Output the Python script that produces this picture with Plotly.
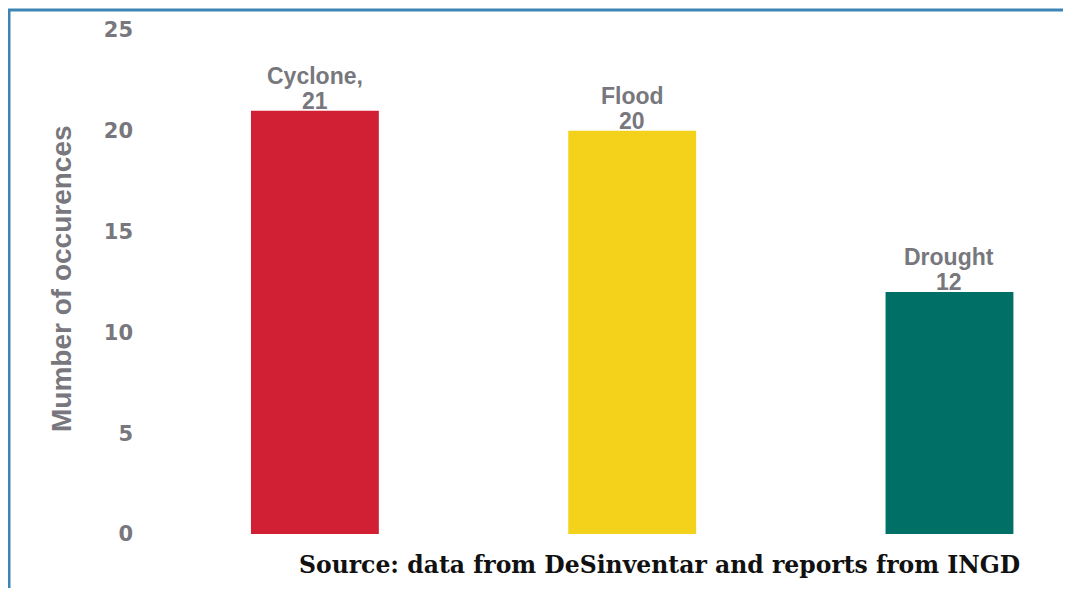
import plotly.graph_objects as go

categories = ["Cyclone,", "Flood", "Drought"]
values = [21, 20, 12]
colors = ["#D11F33", "#F4D11A", "#006F66"]
tick_vals = [0, 5, 10, 15, 20, 25]

# page has an 8px body margin; figure drawn at (8,8)
OFF = 8
W, H = 1055, 580
L, R, T, B = 140, 5, 22, 54
pw = W - L - R
ph = H - T - B

def px(x):
    return (x - OFF - L) / pw

def py(y):
    return (H - B - (y - OFF)) / ph

fig = go.Figure()
fig.add_trace(go.Bar(
    x=[0, 1, 2], y=values, width=0.403,
    marker=dict(color=colors, line=dict(width=0)),
    hovertext=categories,
))

label_font = dict(family="Liberation Sans", size=23, color="#77777d")
for i, (name, v) in enumerate(zip(categories, values)):
    fig.add_annotation(x=i, y=v, text=f"<b>{name}</b>", showarrow=False,
                       xanchor="center", yanchor="middle", yshift=35,
                       font=label_font)
    fig.add_annotation(x=i, y=v, text=f"<b>{v}</b>", showarrow=False,
                       xanchor="center", yanchor="middle", yshift=10,
                       font=label_font)

fig.update_layout(
    width=W, height=H,
    margin=dict(l=L, r=R, t=T, b=B),
    paper_bgcolor="white", plot_bgcolor="white",
    showlegend=False,
    xaxis=dict(range=[-0.526, 2.342], showticklabels=False, showgrid=False,
               zeroline=False, showline=False),
    yaxis=dict(range=[0, 25], tickvals=tick_vals, showgrid=False, zeroline=False,
               showline=False, ticks="", ticklabelstandoff=14,
               tickfont=dict(family="DejaVu Sans", size=21, color="#77777d",
                             weight="bold")),
    font=dict(family="Liberation Sans"),
)

fig.add_annotation(
    text="<b>Mumber of occurences</b>", textangle=-90,
    xref="paper", yref="paper", x=px(61), y=py(279),
    showarrow=False, xanchor="center", yanchor="middle",
    font=dict(family="Liberation Sans", size=28, color="#77777d"),
)

fig.add_annotation(
    text="<b>Source: data from DeSinventar and reports from INGD</b>",
    xref="paper", yref="paper", x=px(1022), y=py(565),
    showarrow=False, xanchor="right", yanchor="middle",
    font=dict(family="DejaVu Serif", size=23.5, color="#111111"),
)

# blue frame
fig.add_shape(type="line", xref="paper", yref="paper",
              x0=px(9), x1=px(9), y0=py(10), y1=py(610),
              line=dict(color="#3C85B5", width=3))
fig.add_shape(type="line", xref="paper", yref="paper",
              x0=px(7.5), x1=px(1090), y0=py(10), y1=py(10),
              line=dict(color="#3C85B5", width=3))

fig.write_html("out.html")
